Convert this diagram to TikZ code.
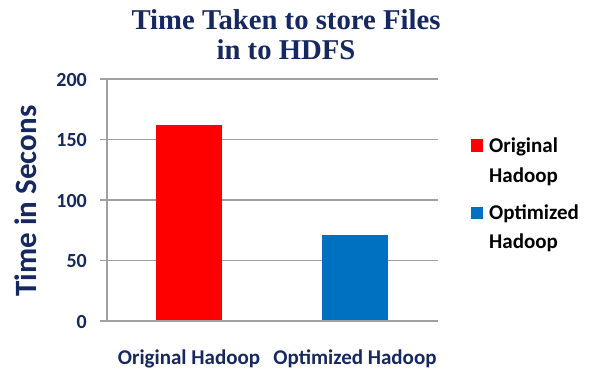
\documentclass[tikz,border=0pt]{standalone}
\usepackage{fontspec}
\setmainfont{Carlito}
\newfontfamily\titlefont{Liberation Serif}
\definecolor{navy}{RGB}{22,40,96}
\definecolor{gridgray}{RGB}{160,160,160}
\definecolor{barred}{RGB}{255,0,0}
\definecolor{barblue}{RGB}{0,112,192}
\begin{document}
\begin{tikzpicture}[x=1pt,y=-1pt,
  grid/.style={draw=gridgray,line width=1.3pt},
  ticklab/.style={anchor=base east,inner sep=0pt,text=navy,font=\fontsize{20}{24}\selectfont\bfseries},
  catlab/.style={anchor=base,inner sep=0pt,text=navy,font=\fontsize{21}{25}\selectfont\bfseries},
  leglab/.style={anchor=base west,inner sep=0pt,text=black,font=\fontsize{21}{25}\selectfont\bfseries},
  bar/.style={draw=none,inner sep=0pt}]
\useasboundingbox (0,0) rectangle (594,372);
\fill[white] (0,0) rectangle (594,372);
% gridlines
\foreach \v/\yy in {0/321,50/260.5,100/200,150/139.5,200/79}{
  \draw[grid] (100,\yy) -- (438,\yy);
  \node[ticklab] (t\v) at (87,\yy+7) {\v};
}
\draw[grid] (107,79) -- (107,321);
% bars
\fill[barred] (156,125) rectangle (222,321);
\fill[barblue] (322,235) rectangle (388,321);
\draw[grid] (100,321) -- (438,321);
% category labels
\node[catlab] (c1) at (189,364) {Original Hadoop};
\node[catlab] (c2) at (355,364) {Optimized Hadoop};
% axis title
\node[anchor=base,inner sep=0pt,rotate=90,text=navy,font=\fontsize{31}{36}\selectfont\bfseries] (yt) at (36,201) {Time in Secons};
% title
\node[anchor=base,inner sep=0pt,text=navy,font=\titlefont\fontsize{28.7}{30}\selectfont\bfseries] (ti1) at (286,29) {Time Taken to store Files};
\node[anchor=base,inner sep=0pt,text=navy,font=\titlefont\fontsize{28.7}{30}\selectfont\bfseries] (ti2) at (286,59) {in to HDFS};
% legend
\fill[barred] (471,139) rectangle (483,152);
\fill[barblue] (471,207) rectangle (483,219);
\node[leglab] (l1a) at (489,152) {Original};
\node[leglab] (l1b) at (489,182) {Hadoop};
\node[leglab] (l2a) at (489,219) {Optimized};
\node[leglab] (l2b) at (489,248) {Hadoop};
\end{tikzpicture}
\end{document}
